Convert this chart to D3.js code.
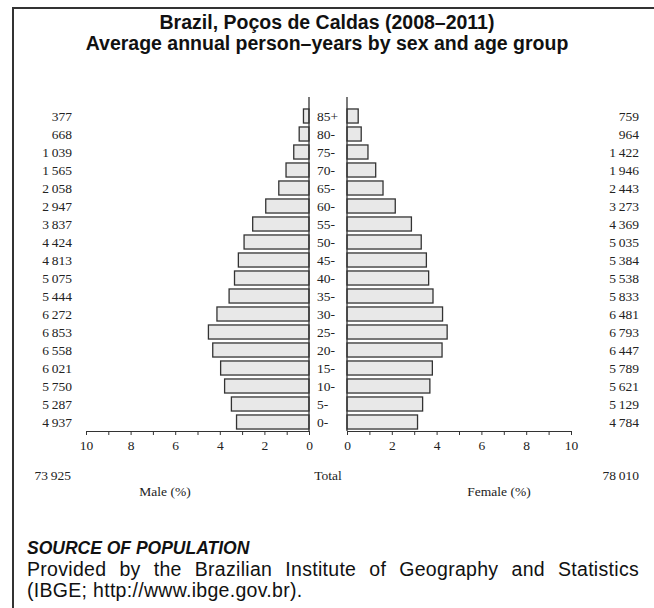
<!DOCTYPE html>
<html><head><meta charset="utf-8">
<script src="https://cdn.jsdelivr.net/npm/d3@7/dist/d3.min.js"></script>
<style>body{margin:0;background:#fff}svg{display:block}</style>
</head><body>
<script>
const ageGroups = ["85+","80-","75-","70-","65-","60-","55-","50-","45-","40-","35-","30-","25-","20-","15-","10-","5-","0-"];
const maleCounts = [377,668,1039,1565,2058,2947,3837,4424,4813,5075,5444,6272,6853,6558,6021,5750,5287,4937];
const femaleCounts = [759,964,1422,1946,2443,3273,4369,5035,5384,5538,5833,6481,6793,6447,5789,5621,5129,4784];
const maleTotal = 73925;
const femaleTotal = 78010;
const axisTicks = [0,1,2,3,4,5,6,7,8,9,10];
const title = ["Brazil, Poços de Caldas (2008–2011)", "Average annual person–years by sex and age group"];

const W = 654, H = 608;
const svg = d3.select("body").append("svg").attr("width", W).attr("height", H);
const grand = maleTotal + femaleTotal;
const loc = d3.formatLocale({decimal: ".", thousands: "\u2009", grouping: [3], currency: ["", ""]});
const fmt = loc.format(",d");

svg.append("path").attr("d", `M13,${H} L13,8 L${W},8`).attr("fill", "none").attr("stroke", "#333").attr("stroke-width", 2);

const serif = "'Liberation Serif','Times New Roman','DejaVu Serif',serif";
const sans = "'Liberation Sans',Arial,sans-serif";
svg.selectAll("text.title").data(title).join("text")
  .attr("x", 327).attr("y", (d, i) => 29 + i * 21)
  .attr("text-anchor", "middle").attr("font-family", sans).attr("font-weight", "bold")
  .attr("font-size", 19.5).attr("fill", "#111").text(d => d);

const y = d3.scaleBand().domain(ageGroups).range([107, 431]).paddingInner(0.22).paddingOuter(0.11);
const xm = d3.scaleLinear().domain([0, 10]).range([309, 86]);
const xf = d3.scaleLinear().domain([0, 10]).range([347, 571]);
const axisY = 431;

const pct = (c) => c / grand * 100;

svg.append("g").selectAll("rect").data(ageGroups).join("rect")
  .attr("x", (d, i) => xm(pct(maleCounts[i])))
  .attr("y", d => y(d)).attr("height", y.bandwidth())
  .attr("width", (d, i) => xm(0) - xm(pct(maleCounts[i])))
  .attr("fill", "#e8e8e8").attr("stroke", "#333").attr("stroke-width", 1.3);
svg.append("g").selectAll("rect").data(ageGroups).join("rect")
  .attr("x", xf(0))
  .attr("y", d => y(d)).attr("height", y.bandwidth())
  .attr("width", (d, i) => xf(pct(femaleCounts[i])) - xf(0))
  .attr("fill", "#e8e8e8").attr("stroke", "#333").attr("stroke-width", 1.3);

[xm(0), xf(0)].forEach(x => {
  svg.append("line").attr("x1", x).attr("x2", x).attr("y1", y(ageGroups[0]) - 12).attr("y2", axisY)
    .attr("stroke", "#333").attr("stroke-width", 1.3);
});

function styleAxis(g) {
  g.select(".domain").attr("stroke", "#333").attr("stroke-width", 1.2);
  g.selectAll(".tick line").attr("stroke", "#333");
  g.selectAll(".tick text").attr("font-family", serif).attr("font-size", 13.5).attr("fill", "#222").attr("dy", "0.9em");
}
const tf = d => (d % 2 === 0 ? d : "");
svg.append("g").attr("transform", `translate(0,${axisY})`)
  .call(d3.axisBottom(xm).tickValues(axisTicks).tickFormat(tf).tickSize(4).tickSizeOuter(0)).call(styleAxis);
svg.append("g").attr("transform", `translate(0,${axisY})`)
  .call(d3.axisBottom(xf).tickValues(axisTicks).tickFormat(tf).tickSize(4).tickSizeOuter(0)).call(styleAxis);

const lab = svg.append("g").attr("font-family", serif).attr("font-size", 13.5).attr("fill", "#222");
lab.selectAll("text.age").data(ageGroups).join("text")
  .attr("x", 317).attr("y", d => y(d) + y.bandwidth() / 2).attr("dy", "0.35em").text(d => d);
lab.selectAll("text.m").data(maleCounts).join("text")
  .attr("x", 72).attr("text-anchor", "end")
  .attr("y", (d, i) => y(ageGroups[i]) + y.bandwidth() / 2).attr("dy", "0.35em").text(d => fmt(d));
lab.selectAll("text.f").data(femaleCounts).join("text")
  .attr("x", 639).attr("text-anchor", "end")
  .attr("y", (d, i) => y(ageGroups[i]) + y.bandwidth() / 2).attr("dy", "0.35em").text(d => fmt(d));

lab.append("text").attr("x", 71).attr("y", 480).attr("text-anchor", "end").text(fmt(maleTotal));
lab.append("text").attr("x", 328).attr("y", 480).attr("text-anchor", "middle").text("Total");
lab.append("text").attr("x", 639).attr("y", 480).attr("text-anchor", "end").text(fmt(femaleTotal));
lab.append("text").attr("x", 165).attr("y", 496).attr("text-anchor", "middle").text("Male (%)");
lab.append("text").attr("x", 499).attr("y", 496).attr("text-anchor", "middle").text("Female (%)");

const src = svg.append("g").attr("font-family", sans).attr("fill", "#111");
src.append("text").attr("x", 27).attr("y", 554).attr("font-size", 17.5).attr("font-weight", "bold").attr("font-style", "italic").text("SOURCE OF POPULATION");
const l2 = src.append("text").attr("x", 27).attr("y", 576).attr("font-size", 19.5).attr("letter-spacing", 0.3).text("Provided by the Brazilian Institute of Geography and Statistics");
const w2 = l2.node().getComputedTextLength();
const spaces = (l2.text().match(/ /g) || []).length;
l2.attr("word-spacing", (639 - 27 - w2) / spaces);
src.append("text").attr("x", 27).attr("y", 597).attr("font-size", 19.5).attr("letter-spacing", 0.3).text("(IBGE; http://www.ibge.gov.br).");
</script>
</body></html>
